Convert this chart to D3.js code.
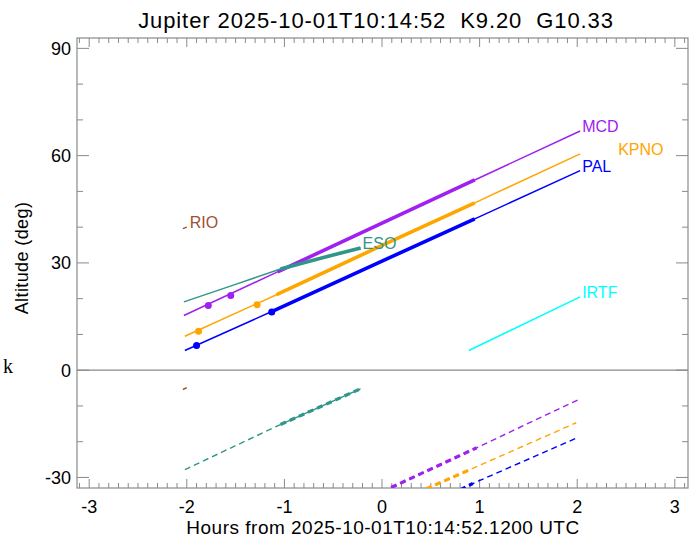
<!DOCTYPE html>
<html>
<head>
<meta charset="utf-8">
<script src="https://cdn.jsdelivr.net/npm/d3@7"></script>
<style>
  body { margin: 0; background: #fff; }
  text { font-family: "Liberation Sans", Arial, sans-serif; white-space: pre; }
</style>
</head>
<body>
<svg id="chart" width="697" height="539"></svg>
<script>
// altitude (deg) vs hours from reference time
var mcdAlt = [[-2.03, 15.3], [-1.07, 27.5], [0, 41.1], [0.95, 53.2], [2.03, 66.9]]
var mcdBest = [[-1.07, 27.5], [0, 41.1], [0.95, 53.2]]
var mcdDots = [[-1.78, 18.1], [-1.55, 20.9]]
var mcdLow = [[0.0, -34.0], [0.97, -21.7], [2.03, -8.0]]
var mcdLowBest = [[0.0, -34.0], [0.97, -21.7]]

var kpnoAlt = [[-2.02, 9.5], [-1.08, 21.1], [0, 34.9], [0.95, 46.8], [2.03, 60.5]]
var kpnoBest = [[-1.08, 21.1], [0, 34.9], [0.95, 46.8]]
var kpnoDots = [[-1.88, 10.9], [-1.28, 18.3]]
var kpnoLow = [[0.45, -33.2], [0.91, -27.7], [1.99, -14.7]]
var kpnoLowBest = [[0.45, -33.2], [0.91, -27.7]]

var palAlt = [[-2.02, 5.5], [-1.13, 16.4], [0, 30.5], [0.95, 42.3], [2.03, 55.8]]
var palBest = [[-1.13, 16.4], [0, 30.5], [0.95, 42.3]]
var palDots = [[-1.9, 6.9], [-1.13, 16.3]]
var palLow = [[0.8, -33.5], [0.93, -31.7], [2.0, -18.9]]
var palLowBest = [[0.8, -33.5], [0.93, -31.7]]

var esoAlt = [[-2.03, 19.1], [-1.5, 24.0], [-1.04, 28.3], [-0.6, 31.5], [-0.22, 34.2]]
var esoBest = [[-1.04, 28.3], [-0.6, 31.5], [-0.22, 34.2]]
var esoDots = []
var esoLow = [[-2.02, -27.8], [-1.04, -15.2], [-0.22, -5.2]]
var esoLowBest = [[-1.04, -15.2], [-0.22, -5.2]]

var rioAlt = [[-2.04, 39.6], [-2.0, 40.0]]
var rioLow = [[-2.04, -5.4], [-2.0, -4.9]]

var irtfAlt = [[0.89, 5.5], [2.03, 20.5]]

var xTicks = [-3, -2, -1, 0, 1, 2, 3]
var yTicks = [-30, 0, 30, 60, 90]

var title = "Jupiter 2025-10-01T10:14:52  K9.20  G10.33"
var xTitle = "Hours from 2025-10-01T10:14:52.1200 UTC"
var yTitle = "Altitude (deg)"

var sites = [
    {name: "MCD", color: "#a020f0", alt: mcdAlt, best: mcdBest, dots: mcdDots, low: mcdLow, lowBest: mcdLowBest, dx: 2},
    {name: "KPNO", color: "#ffa500", alt: kpnoAlt, best: kpnoBest, dots: kpnoDots, low: kpnoLow, lowBest: kpnoLowBest, dx: 38},
    {name: "PAL", color: "#0000ff", alt: palAlt, best: palBest, dots: palDots, low: palLow, lowBest: palLowBest, dx: 2},
    {name: "ESO", color: "#2f9688", alt: esoAlt, best: esoBest, dots: esoDots, low: esoLow, lowBest: esoLowBest, dx: 2},
    {name: "RIO", color: "#a0522d", alt: rioAlt, best: [], dots: [], low: rioLow, lowBest: [], dx: 3},
    {name: "IRTF", color: "#00ffff", alt: irtfAlt, best: [], dots: [], low: [], lowBest: [], dx: 2}
]

var svg = d3.select("#chart")
var pLeft = 77, pRight = 688, pTop = 38, pBottom = 488
var axisColor = "#8a8a8a"

var x = d3.scaleLinear().domain([-3.125, 3.135]).range([pLeft, pRight])
var y = d3.scaleLinear().domain([-32.95, 92.9]).range([pBottom, pTop])

svg.append("defs").append("clipPath").attr("id", "plotclip")
    .append("rect").attr("x", pLeft).attr("y", pTop)
    .attr("width", pRight - pLeft).attr("height", pBottom - pTop)

// frame
svg.append("rect").attr("x", pLeft).attr("y", pTop)
    .attr("width", pRight - pLeft).attr("height", pBottom - pTop)
    .attr("fill", "none").attr("stroke", axisColor).attr("stroke-width", 1.2)

// x ticks, bottom and top, pointing inward
var xMinor = d3.range(-31, 32).map(function(d) { return d / 10 })
xMinor.forEach(function(t) {
    var major = Math.abs(t - Math.round(t)) < 1e-6
    var len = major ? 9 : 5
    svg.append("line").attr("x1", x(t)).attr("x2", x(t))
        .attr("y1", pBottom).attr("y2", pBottom - len)
        .attr("stroke", axisColor).attr("stroke-width", 1)
    svg.append("line").attr("x1", x(t)).attr("x2", x(t))
        .attr("y1", pTop).attr("y2", pTop + len)
        .attr("stroke", axisColor).attr("stroke-width", 1)
})
xTicks.forEach(function(t) {
    svg.append("text").attr("x", x(t)).attr("y", 513)
        .attr("text-anchor", "middle").style("font-size", "18px")
        .text(t)
})

// y ticks, left and right
var yMinor = d3.range(-30, 91, 10)
yMinor.forEach(function(t) {
    var len = (t % 30 === 0) ? 12 : 6
    svg.append("line").attr("x1", pLeft).attr("x2", pLeft + len)
        .attr("y1", y(t)).attr("y2", y(t))
        .attr("stroke", axisColor).attr("stroke-width", 1)
    svg.append("line").attr("x1", pRight).attr("x2", pRight - len)
        .attr("y1", y(t)).attr("y2", y(t))
        .attr("stroke", axisColor).attr("stroke-width", 1)
})
yTicks.forEach(function(t) {
    svg.append("text").attr("x", 71).attr("y", y(t) + 6.5)
        .attr("text-anchor", "end").style("font-size", "18px")
        .text(t)
})

// horizon
svg.append("line").attr("x1", pLeft).attr("x2", pRight)
    .attr("y1", y(0)).attr("y2", y(0))
    .attr("stroke", axisColor).attr("stroke-width", 1.2)

var line = d3.line().x(function(d) { return x(d[0]) }).y(function(d) { return y(d[1]) })
var plot = svg.append("g").attr("clip-path", "url(#plotclip)")

sites.forEach(function(s) {
    if (s.low.length) {
        plot.append("path").attr("d", line(s.low)).attr("fill", "none")
            .attr("stroke", s.color).attr("stroke-width", 1.4).attr("stroke-dasharray", "6,4")
    }
    if (s.lowBest.length) {
        plot.append("path").attr("d", line(s.lowBest)).attr("fill", "none")
            .attr("stroke", s.color).attr("stroke-width", 3.2).attr("stroke-dasharray", "6,4")
    }
    plot.append("path").attr("d", line(s.alt)).attr("fill", "none")
        .attr("stroke", s.color).attr("stroke-width", 1.5)
    if (s.best.length) {
        plot.append("path").attr("d", line(s.best)).attr("fill", "none")
            .attr("stroke", s.color).attr("stroke-width", 3.6)
    }
    plot.selectAll(null).data(s.dots).enter().append("circle")
        .attr("cx", function(d) { return x(d[0]) })
        .attr("cy", function(d) { return y(d[1]) })
        .attr("r", 3.5).attr("fill", s.color)
    var end = s.alt[s.alt.length - 1]
    svg.append("text").attr("x", x(end[0]) + s.dx).attr("y", y(end[1]) + 1)
        .style("font-size", "16px").attr("fill", s.color)
        .text(s.name)
})

// titles
svg.append("text").attr("x", 376).attr("y", 28).attr("text-anchor", "middle")
    .style("font-size", "22px").style("letter-spacing", "0.9px").text(title)
svg.append("text").attr("x", 383).attr("y", 534).attr("text-anchor", "middle")
    .style("font-size", "19px").style("letter-spacing", "0.5px").text(xTitle)
svg.append("text").attr("transform", "translate(28,258) rotate(-90)")
    .attr("text-anchor", "middle").style("font-size", "18px")
    .style("letter-spacing", "0.4px").text(yTitle)

svg.append("text").attr("x", 3).attr("y", 373)
    .style("font-family", "'Liberation Serif', 'DejaVu Serif', serif")
    .style("font-size", "20px").text("k")
</script>
</body>
</html>
